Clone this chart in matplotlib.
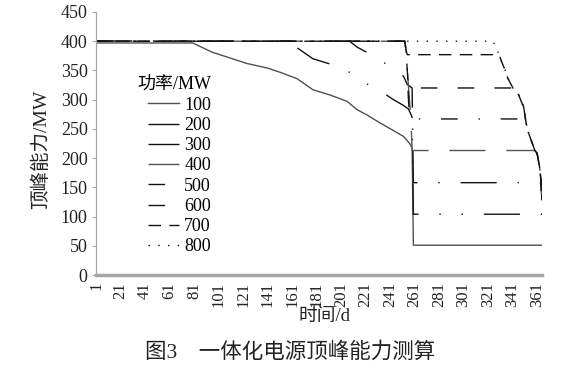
import matplotlib
matplotlib.use("Agg")
import matplotlib.pyplot as plt

plt.rcParams['font.family'] = ['Liberation Serif', 'Noto Sans CJK SC']
plt.rcParams['lines.scale_dashes'] = False

# values (day, MW)
s100_days = [1, 80, 83, 96, 105, 124, 141, 151, 165, 178, 192, 206, 214, 222, 233, 243, 252, 257, 259, 260, 365]
s100_vals = [397, 397, 394, 381, 375, 362, 354, 347, 336, 317, 308, 297, 283, 274, 260, 248, 237, 225, 217, 51, 51]

s200_days = [1, 152, 165, 178, 192, 206, 214, 222, 233, 243, 252, 256, 259, 260, 365]
s200_vals = [400, 400, 389, 370, 361, 350, 336, 327, 315, 301, 290, 284, 270, 104, 104]

s300_days = [1, 208, 214, 222, 233, 243, 247, 252, 255, 259, 260, 364, 365]
s300_vals = [400, 400, 390, 381, 367, 355, 348, 340, 326, 320, 158, 158, 128]

s400_days = [1, 253, 254, 255, 257, 258, 259, 359, 361, 363, 364, 365]
s400_vals = [400, 400, 385, 351, 295, 265, 213, 213, 208, 185, 165, 128]

s500_days = [1, 253, 254, 255, 256, 257, 351, 352, 354, 359, 361, 363, 364, 365]
s500_vals = [400, 400, 385, 351, 300, 267, 267, 260, 243, 214, 208, 185, 165, 128]

s600_days = [1, 253, 254, 255, 256, 341, 342, 346, 348, 350, 352, 354, 359, 361, 363, 364, 365]
s600_vals = [400, 400, 385, 351, 320, 320, 317, 308, 297, 288, 260, 243, 214, 208, 185, 165, 128]

s700_days = [1, 253, 254, 255, 330, 332, 336, 337, 342, 346, 348, 350, 352, 354, 359, 361, 363, 364, 365]
s700_vals = [400, 400, 385, 377, 377, 365, 345, 337, 317, 308, 297, 288, 260, 243, 214, 208, 185, 165, 128]

s800_days = [1, 325, 329, 332, 336, 337, 342, 346, 348, 350, 352, 354, 359, 361, 363, 364, 365]
s800_vals = [400, 400, 382, 365, 345, 337, 317, 308, 297, 288, 260, 243, 214, 208, 185, 165, 128]

labels = ['100', '200', '300', '400', '500', '600', '700', '800']
xtick_days = list(range(1, 366, 20))
yticks = list(range(0, 451, 50))

series = [
    (s100_days, s100_vals, '#505050', None),
    (s200_days, s200_vals, '#111111', (26, 15, 1, 15, 1, 15)),
    (s300_days, s300_vals, '#111111', (26, 15, 1, 15)),
    (s400_days, s400_vals, '#555555', (26, 15)),
    (s500_days, s500_vals, '#111111', (12, 15, 1, 15)),
    (s600_days, s600_vals, '#111111', (12, 14.5)),
    (s700_days, s700_vals, '#111111', (9, 6)),
    (s800_days, s800_vals, '#111111', (1, 6)),
]

fig = plt.figure(figsize=(5.83, 3.69), dpi=100)
ax = fig.add_axes([0.1647, 0.2547, 0.765, 0.7128])

for (d, v, c, dash), lab in zip(series, labels):
    line, = ax.plot(d, v, color=c, lw=1.0, label=lab)
    if dash is not None:
        line.set_dashes(dash)

ax.set_xlim(1, 365)
ax.set_ylim(0, 450)
ax.set_xticks(xtick_days)
ax.set_xticklabels([str(t) for t in xtick_days], rotation=90, fontsize=12, color='#222222')
ax.set_yticks(yticks)
ax.set_yticklabels([str(t) for t in yticks], fontsize=13, color='#222222')
ax.tick_params(axis='x', length=0, pad=5)
ax.tick_params(axis='y', length=3, color='#a6a6a6', width=0.8, pad=3)

for s in ['top', 'right']:
    ax.spines[s].set_visible(False)
ax.spines['left'].set_color('#a6a6a6')
ax.spines['left'].set_linewidth(0.9)
ax.spines['bottom'].set_color('#a6a6a6')
ax.spines['bottom'].set_linewidth(2.5)

ax.set_ylabel('顶峰能力/MW', fontsize=14, color='#222222')
ax.yaxis.set_label_coords(-0.103, 0.479)
ax.set_xlabel('时间/d', fontsize=13.5, color='#222222')
ax.xaxis.set_label_coords(0.513, -0.125)

leg = ax.legend(title='功率/MW', loc='upper left', bbox_to_anchor=(0.092, 0.755),
                frameon=False, fontsize=13, title_fontsize=13, alignment='right',
                handlelength=1.72, handletextpad=0.28, labelspacing=0.18,
                borderpad=0, borderaxespad=0)

fig.text(0.497, 0.046, '图3　一体化电源顶峰能力测算', fontsize=15.5, ha='center', va='center',
         color='#222222')

fig.savefig('out.png', dpi=100)
